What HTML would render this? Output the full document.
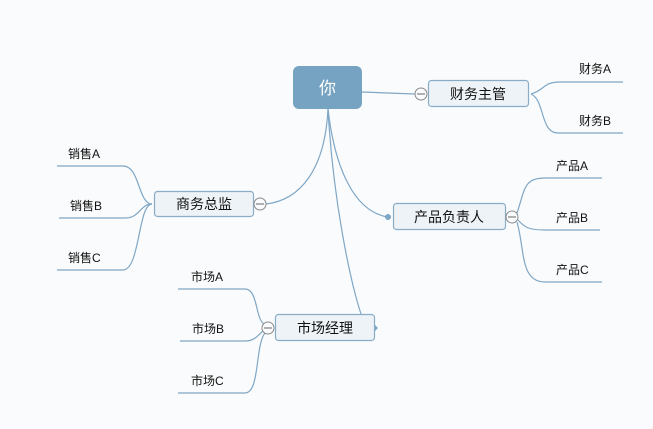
<!DOCTYPE html>
<html><head><meta charset="utf-8"><style>
html,body{margin:0;padding:0;background:#fafbfc;}
svg{display:block;}
text{font-family:"Liberation Sans","Noto Sans CJK SC",sans-serif;fill:#111;}
</style></head><body>
<svg width="653" height="429" viewBox="0 0 653 429" xmlns="http://www.w3.org/2000/svg">
<rect width="653" height="429" fill="#fafbfc"/>
<g fill="none" stroke="#7fa7c6" stroke-width="1.2">
<path d="M362,92 L415,94"/>
<path d="M328,109 C 325,170 300,200 266,204"/>
<path d="M328,109 C 333,200 350,280 361,314"/>
<path d="M328,109 C 335,170 355,212 388,217"/>
<path d="M531,94 C 545,90 543,82 560,82 L623,82"/>
<path d="M531,94 C 545,100 540,133 558,133 L623,133"/>
<path d="M57,166 L123,166 C 140,166 138,204 152,204"/>
<path d="M59,218 L125,218 C 140,218 140,204 152,204"/>
<path d="M57,270 L123,270 C 140,270 138,204 152,204"/>
<path d="M517,213 C 525,190 523,178 545,178 L602,178"/>
<path d="M518,220 C 525,228 530,230 545,230 L600,230"/>
<path d="M517,222 C 525,250 520,282 545,282 L602,282"/>
<path d="M178,289 L245,289 C 258,289 255,318 264,324"/>
<path d="M180,341 L245,341 C 255,341 258,335 263,331"/>
<path d="M178,393 L245,393 C 260,393 255,345 265,333"/>
</g>
<rect x="293" y="66" width="69" height="43" rx="6" fill="#77a3c2"/>
<text x="327.5" y="94" font-size="17" text-anchor="middle" style="fill:#fff">你</text>
<g fill="#eef3f7" stroke="#88adc9" stroke-width="1.2">
<rect x="428.5" y="80.5" width="100" height="26" rx="3"/>
<rect x="154.5" y="191.5" width="99" height="25" rx="3"/>
<rect x="393.5" y="203.5" width="112" height="26" rx="3"/>
<rect x="275.5" y="314.5" width="99" height="26" rx="3"/>
</g>
<text x="478" y="99" font-size="14" text-anchor="middle">财务主管</text>
<text x="204" y="209" font-size="14" text-anchor="middle">商务总监</text>
<text x="449" y="222" font-size="14" text-anchor="middle">产品负责人</text>
<text x="325" y="333" font-size="14" text-anchor="middle">市场经理</text>
<g fill="#fafbfc" stroke="#888" stroke-width="1">
<circle cx="421" cy="94" r="6"/>
<circle cx="260" cy="204" r="6"/>
<circle cx="512" cy="217" r="6"/>
<circle cx="268" cy="328" r="6"/>
</g>
<g stroke="#666" stroke-width="1">
<line x1="417" y1="94" x2="425" y2="94"/>
<line x1="256" y1="204" x2="264" y2="204"/>
<line x1="508" y1="217" x2="516" y2="217"/>
<line x1="264" y1="328" x2="272" y2="328"/>
</g>
<circle cx="388" cy="217" r="3" fill="#7fa7c6"/>
<path d="M375,325 L378,328 L375,331 Z" fill="#7fa7c6"/>
<g font-size="12">
<text x="579" y="73">财务A</text>
<text x="579" y="125">财务B</text>
<text x="68" y="158">销售A</text>
<text x="70" y="210">销售B</text>
<text x="68" y="262">销售C</text>
<text x="556" y="170">产品A</text>
<text x="556" y="222">产品B</text>
<text x="556" y="274">产品C</text>
<text x="191" y="281">市场A</text>
<text x="192" y="333">市场B</text>
<text x="191" y="385">市场C</text>
</g>
</svg>
</body></html>
